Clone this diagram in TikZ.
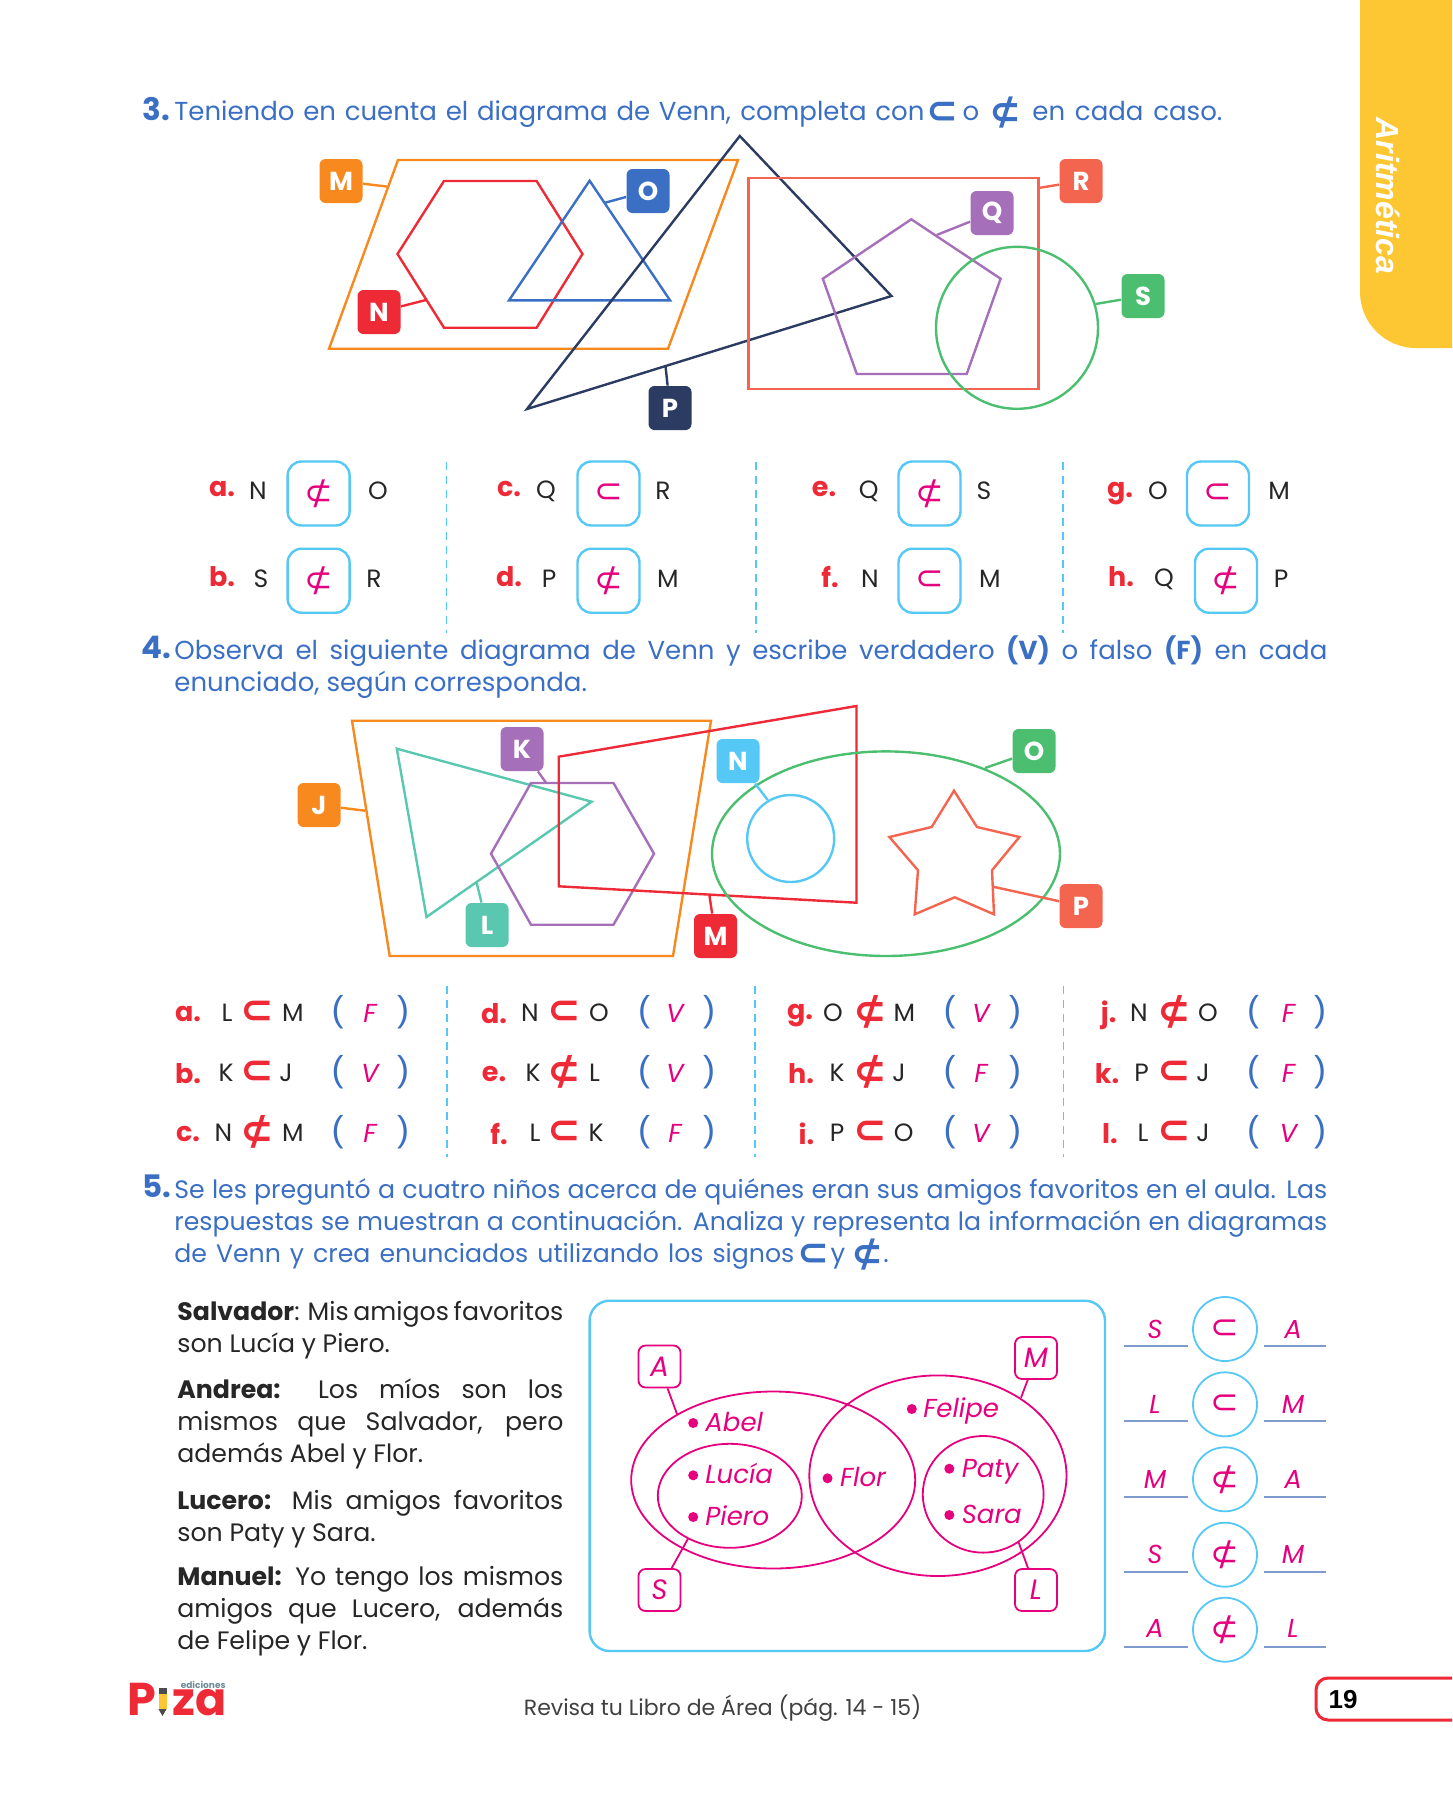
\documentclass[tikz,border=0pt]{standalone}
\usepackage{amsmath,amssymb}
\usepackage{fontspec}
\setmainfont{Poppins}
\newfontfamily\arialfont{Liberation Sans}
\newfontfamily\symfont{DejaVu Sans}
\usepackage{tikz}
\usetikzlibrary{positioning, shapes.geometric}
\definecolor{tabyellow}{HTML}{FCC732}
\definecolor{headblue}{HTML}{3A6FC4}
\definecolor{tagorange}{HTML}{F7891F}
\definecolor{tagred}{HTML}{EE2A37}
\definecolor{tagnavy}{HTML}{2B3B62}
\definecolor{tagpurple}{HTML}{A66FBA}
\definecolor{tagcoral}{HTML}{F3654E}
\definecolor{taggreen}{HTML}{4CBE70}
\definecolor{tagteal}{HTML}{5AC8B0}
\definecolor{tagcyan}{HTML}{55C8F5}
\definecolor{ansmag}{HTML}{E6007E}
\definecolor{linegray}{HTML}{7F9BCE}
\definecolor{logogray}{HTML}{6E8A96}
\newcommand{\insym}{{\symfont ⊂}}
\newcommand{\notsym}{{\symfont ⊄}}
\tikzset{
  body/.style={anchor=mid west, inner sep=0pt, yshift=-2pt, font=\fontsize{13}{15}\selectfont},
  tightbody/.style={anchor=mid west, inner sep=0pt, yshift=-2pt, font=\fontsize{12.6}{15}\selectfont},
  headtext/.style={body, text=headblue},
  headtight/.style={tightbody, text=headblue},
  blacktext/.style={tightbody, text=black!85},
  headsym/.style={inner sep=0pt, yshift=-1pt, text=headblue, font=\fontsize{19}{20}\selectfont\bfseries},
  secnum/.style={anchor=mid west, inner sep=0pt, yshift=-2pt, text=headblue, font=\fontsize{15.5}{16}\selectfont\bfseries},
  tagbox/.style={fill=#1, rounded corners=3pt, minimum width=21.5pt, minimum height=22pt, inner sep=0pt, text=white, font=\fontsize{13}{13}\selectfont\bfseries},
  setline/.style={draw=#1, line width=1.2pt, line join=miter},
  letter/.style={inner sep=0pt, text=black!85, font=\fontsize{12.5}{14}\selectfont},
  itemred/.style={inner sep=0pt, text=tagred, font=\fontsize{13.5}{14}\selectfont\bfseries},
  symbox/.style={draw=tagcyan, line width=1.2pt, rounded corners=7pt, minimum width=31pt, minimum height=32pt, inner sep=0pt, text=ansmag, font=\fontsize{17}{18}\selectfont},
  redsym/.style={inner sep=0pt, text=tagred, font=\fontsize{20}{21}\selectfont\bfseries},
  paren/.style={inner sep=0pt, text=headblue, font=\arialfont\fontsize{18}{18}\selectfont},
  answer/.style={inner sep=0pt, text=ansmag, font=\fontsize{13}{14}\selectfont\itshape},
  sepline/.style={draw=tagcyan, line width=0.8pt, dash pattern=on 4pt off 3pt},
  magline/.style={draw=ansmag, line width=0.9pt},
  magbox/.style={draw=ansmag, line width=0.9pt, rounded corners=3.5pt, minimum width=21pt, minimum height=21pt, inner sep=0pt, text=ansmag, font=\fontsize{14}{15}\selectfont\itshape},
  person/.style={anchor=mid west, inner sep=0pt, yshift=-1.5pt, text=ansmag, font=\fontsize{13}{15}\selectfont\itshape},
  blob/.style={circle, fill=ansmag, minimum size=5pt, inner sep=0pt},
  relcirc/.style={circle, draw=tagcyan, line width=0.9pt, minimum size=32pt, inner sep=0pt, text=ansmag, font=\fontsize{17}{18}\selectfont},
  ansline/.style={draw=linegray, line width=1pt},
}
\begin{document}
\begin{tikzpicture}[x=0.5pt, y=-0.5pt]
\useasboundingbox (0,0) rectangle (1452,1800);
% Side tab
\fill[tabyellow] (1452,0) -- (1360,0) [rounded corners=28pt] -- (1360,348) [sharp corners] -- (1452,348) -- cycle;
\node[rotate=-90, inner sep=0pt, text=white, font=\arialfont\fontsize{16}{16}\selectfont\bfseries\itshape] (tabtext) at (1388,196) {Aritmética};
%
% Exercise 3: heading
\node[secnum] (num3) at (142,111) {3.};
\node[headtext] (head3a) at (174,111) {\makebox[375pt][s]{Teniendo en cuenta el diagrama de Venn, completa con}};
\node[headsym] (head3b) at (942,111) {\insym};
\node[headtext, anchor=mid] (head3c) at (971,111) {o};
\node[headsym] (head3d) at (1005,111) {\notsym};
\node[headtext] (head3e) at (1032,111) {\makebox[95pt][s]{en cada caso.}};
%
% Exercise 3: sets
\draw[setline=tagorange] (398,160) -- (738,160) -- (668,348.7) -- (329,348.7) -- cycle; % Parallelogram M
\draw[setline=tagred] (444,181) -- (536.6,181) -- (582.5,254) -- (536.6,327.7) -- (444,327.7) -- (397.5,254) -- cycle; % Hexagon N
\draw[setline=headblue] (589.6,180.7) -- (670,300.3) -- (509,300.3) -- cycle; % Triangle O
\draw[setline=tagnavy] (739.8,136) -- (891.5,296) -- (527,409) -- cycle; % Triangle P
\draw[setline=tagcoral] (748.5,178) rectangle (1038.6,389); % Rectangle R
\draw[setline=tagpurple] (911.3,219.3) -- (1000.6,278.7) -- (966.7,374) -- (856.8,374) -- (822.8,278.7) -- cycle; % Pentagon Q
\draw[setline=taggreen] (1017,327.8) circle [radius=81]; % Circle S
%
% Exercise 3: tags
\node[tagbox=tagorange] (tagM) at (341,181) {M};
\node[tagbox=headblue] (tagO) at (648,191) {O};
\node[tagbox=tagred] (tagN) at (379,312) {N};
\node[tagbox=tagcoral] (tagR) at (1081,181) {R};
\node[tagbox=tagpurple] (tagQ) at (992,213) {Q};
\node[tagbox=taggreen] (tagS) at (1143,296) {S};
\node[tagbox=tagnavy] (tagP) at (670,408) {P};
\coordinate (endM) at (388,186.7);
\coordinate (endO) at (604,203);
\coordinate (endN) at (426,300);
\coordinate (endR) at (1038.6,188);
\coordinate (endQ) at (936.6,235);
\coordinate (endS) at (1095.5,304);
\coordinate (endP) at (665.5,366);
\draw[setline=tagorange] (tagM) -- (endM);
\draw[setline=headblue] (tagO) -- (endO);
\draw[setline=tagred] (tagN) -- (endN);
\draw[setline=tagcoral] (tagR) -- (endR);
\draw[setline=tagpurple] (tagQ) -- (endQ);
\draw[setline=taggreen] (tagS) -- (endS);
\draw[setline=tagnavy] (tagP) -- (endP);
%
% Exercise 3: answers, top row
\node[itemred] (a3) at (222,489) {a.};
\node[letter] (a3l) at (258,491) {N};
\node[symbox] (a3s) at (318.6,493.5) {\notsym};
\node[letter] (a3r) at (378,491) {O};
\node[itemred] (c3) at (509,489) {c.};
\node[letter] (c3l) at (546,491) {Q};
\node[symbox] (c3s) at (608.5,493.5) {\insym};
\node[letter] (c3r) at (663,491) {R};
\node[itemred] (e3) at (824,489) {e.};
\node[letter] (e3l) at (868.6,491) {Q};
\node[symbox] (e3s) at (929.5,493.5) {\notsym};
\node[letter] (e3r) at (984,491) {S};
\node[itemred] (g3) at (1120,494) {g.};
\node[letter] (g3l) at (1158,491) {O};
\node[symbox] (g3s) at (1218,493.5) {\insym};
\node[letter] (g3r) at (1279,491) {M};
%
% Exercise 3: answers, bottom row
\node[itemred] (b3) at (222,577) {b.};
\node[letter] (b3l) at (261,579) {S};
\node[symbox] (b3s) at (318.6,580.7) {\notsym};
\node[letter] (b3r) at (374,579) {R};
\node[itemred] (d3) at (509,577) {d.};
\node[letter] (d3l) at (549,579) {P};
\node[symbox] (d3s) at (608.5,580.7) {\notsym};
\node[letter] (d3r) at (668,579) {M};
\node[itemred] (f3) at (830,577) {f.};
\node[letter] (f3l) at (870,579) {N};
\node[symbox] (f3s) at (929.5,580.7) {\insym};
\node[letter] (f3r) at (990,579) {M};
\node[itemred] (h3) at (1121,577) {h.};
\node[letter] (h3l) at (1164,579) {Q};
\node[symbox] (h3s) at (1226,580.7) {\notsym};
\node[letter] (h3r) at (1281,579) {P};
\draw[sepline] (446.5,462) -- (446.5,633);
\draw[sepline] (756,462) -- (756,633);
\draw[sepline] (1063,462) -- (1063,633);
%
% Exercise 4: heading
\node[secnum] (num4) at (141,649) {4.};
\node[headtext] (head4a) at (174,650) {\makebox[576.5pt][s]{Observa el siguiente diagrama de Venn y escribe verdadero \textbf{(V)} o falso \textbf{(F)} en cada}};
\node[headtext] (head4b) at (174,682) {enunciado, según corresponda.};
%
% Exercise 4: sets
\draw[setline=tagorange] (352,720.7) -- (711,720.7) -- (673,956) -- (389.7,956) -- cycle; % Trapezoid J
\draw[setline=tagteal] (396.8,748.7) -- (591.6,801.7) -- (426.5,917) -- cycle; % Triangle L
\draw[setline=tagpurple] (531,783) -- (613.5,783) -- (654,853.7) -- (613.5,924.7) -- (531,924.7) -- (491,853.7) -- cycle; % Hexagon K
\draw[setline=tagred] (558.7,756.7) -- (856.5,706) -- (856.5,902.7) -- (558.7,886.3) -- cycle; % Quadrilateral M
\draw[setline=taggreen] (886,853.7) ellipse [x radius=174, y radius=102.3]; % Ellipse O
\draw[setline=tagcyan] (790.7,838.5) circle [radius=43.5]; % Circle N
\draw[setline=tagcoral] (954,790.7) -- (977,827) -- (1019.4,837) -- (992,870.3) -- (994,914.3) -- (954.7,897.3) -- (914.7,914.3) -- (918,870.3) -- (889.4,837) -- (931.7,827) -- cycle; % Star P
%
% Exercise 4: tags
\node[tagbox=tagorange] (tagJ) at (319,805) {J};
\node[tagbox=tagpurple] (tagK) at (522,749) {K};
\node[tagbox=tagcyan] (tagNb) at (738,761) {N};
\node[tagbox=taggreen] (tagOb) at (1034,751) {O};
\node[tagbox=tagcoral] (tagPb) at (1081,906) {P};
\node[tagbox=tagteal] (tagL) at (487,925) {L};
\node[tagbox=tagred] (tagMb) at (715.5,936) {M};
\coordinate (endJ) at (365,810.7);
\coordinate (endK) at (546,782.7);
\coordinate (endNb) at (767.7,800);
\coordinate (endOb) at (985,768);
\coordinate (endPb) at (993,886.7);
\coordinate (endL) at (476.4,881.7);
\coordinate (endMb) at (709.5,896);
\draw[setline=tagorange] (tagJ) -- (endJ);
\draw[setline=tagpurple] (tagK) -- (endK);
\draw[setline=tagcyan] (tagNb) -- (endNb);
\draw[setline=taggreen] (tagOb) -- (endOb);
\draw[setline=tagcoral] (tagPb) -- (endPb);
\draw[setline=tagteal] (tagL) -- (endL);
\draw[setline=tagred] (tagMb) -- (endMb);
%
% Exercise 4: answers, first column
\node[itemred] (a4) at (188,1014) {a.};
\node[letter] (a4l) at (227,1013) {L};
\node[redsym] (a4s) at (257,1012) {\insym};
\node[letter] (a4r) at (293,1013) {M};
\node[paren] (a4o) at (337.5,1012) {(};
\node[answer] (a4v) at (370,1013) {F};
\node[paren] (a4c) at (403,1012) {)};
\node[itemred] (b4) at (188,1074) {b.};
\node[letter] (b4l) at (226,1073) {K};
\node[redsym] (b4s) at (257,1072) {\insym};
\node[letter] (b4r) at (286,1073) {J};
\node[paren] (b4o) at (337.5,1072) {(};
\node[answer] (b4v) at (370,1073) {V};
\node[paren] (b4c) at (403,1072) {)};
\node[itemred] (c4) at (188,1134) {c.};
\node[letter] (c4l) at (223.5,1133) {N};
\node[redsym] (c4s) at (257,1132) {\notsym};
\node[letter] (c4r) at (293,1133) {M};
\node[paren] (c4o) at (337.5,1132) {(};
\node[answer] (c4v) at (370,1133) {F};
\node[paren] (c4c) at (403,1132) {)};
%
% Exercise 4: answers, second column
\node[itemred] (d4) at (494,1014) {d.};
\node[letter] (d4l) at (530,1013) {N};
\node[redsym] (d4s) at (564,1012) {\insym};
\node[letter] (d4r) at (599,1013) {O};
\node[paren] (d4o) at (644,1012) {(};
\node[answer] (d4v) at (675,1013) {V};
\node[paren] (d4c) at (709,1012) {)};
\node[itemred] (e4) at (494,1074) {e.};
\node[letter] (e4l) at (533,1073) {K};
\node[redsym] (e4s) at (564,1072) {\notsym};
\node[letter] (e4r) at (594.6,1073) {L};
\node[paren] (e4o) at (644,1072) {(};
\node[answer] (e4v) at (675,1073) {V};
\node[paren] (e4c) at (709,1072) {)};
\node[itemred] (f4) at (499,1134) {f.};
\node[letter] (f4l) at (535,1133) {L};
\node[redsym] (f4s) at (564,1132) {\insym};
\node[letter] (f4r) at (596,1133) {K};
\node[paren] (f4o) at (644,1132) {(};
\node[answer] (f4v) at (675,1133) {F};
\node[paren] (f4c) at (709,1132) {)};
%
% Exercise 4: answers, third column
\node[itemred] (g4) at (800,1016) {g.};
\node[letter] (g4l) at (833,1013) {O};
\node[redsym] (g4s) at (870,1012) {\notsym};
\node[letter] (g4r) at (904.5,1013) {M};
\node[paren] (g4o) at (949.6,1012) {(};
\node[answer] (g4v) at (981,1013) {V};
\node[paren] (g4c) at (1015,1012) {)};
\node[itemred] (h4) at (801,1074) {h.};
\node[letter] (h4l) at (837,1073) {K};
\node[redsym] (h4s) at (870,1072) {\notsym};
\node[letter] (h4r) at (899,1073) {J};
\node[paren] (h4o) at (949.6,1072) {(};
\node[answer] (h4v) at (981,1073) {F};
\node[paren] (h4c) at (1015,1072) {)};
\node[itemred] (i4) at (806.5,1134) {i.};
\node[letter] (i4l) at (837,1133) {P};
\node[redsym] (i4s) at (870,1132) {\insym};
\node[letter] (i4r) at (903.7,1133) {O};
\node[paren] (i4o) at (949.6,1132) {(};
\node[answer] (i4v) at (981,1133) {V};
\node[paren] (i4c) at (1015,1132) {)};
%
% Exercise 4: answers, fourth column
\node[itemred] (j4) at (1108.7,1015) {j.};
\node[letter] (j4l) at (1139,1013) {N};
\node[redsym] (j4s) at (1174,1012) {\notsym};
\node[letter] (j4r) at (1208,1013) {O};
\node[paren] (j4o) at (1253,1012) {(};
\node[answer] (j4v) at (1288.5,1013) {F};
\node[paren] (j4c) at (1320,1012) {)};
\node[itemred] (k4) at (1107,1074) {k.};
\node[letter] (k4l) at (1141.6,1073) {P};
\node[redsym] (k4s) at (1174,1072) {\insym};
\node[letter] (k4r) at (1203,1073) {J};
\node[paren] (k4o) at (1253,1072) {(};
\node[answer] (k4v) at (1288.5,1073) {F};
\node[paren] (k4c) at (1320,1072) {)};
\node[itemred] (l4) at (1110,1134) {l.};
\node[letter] (l4l) at (1143,1133) {L};
\node[redsym] (l4s) at (1174,1132) {\insym};
\node[letter] (l4r) at (1203,1133) {J};
\node[paren] (l4o) at (1253,1132) {(};
\node[answer] (l4v) at (1288.5,1133) {V};
\node[paren] (l4c) at (1320,1132) {)};
\draw[sepline, line width=0.6pt] (447,986) -- (447,1157);
\draw[sepline, line width=0.6pt] (755,986) -- (755,1157);
\draw[sepline, line width=0.6pt] (1063.6,986) -- (1063.6,1157);
%
% Exercise 5: heading
\node[secnum] (num5) at (142,1188) {5.};
\node[headtight] (head5a) at (174,1189) {\makebox[576.5pt][s]{Se les preguntó a cuatro niños acerca de quiénes eran sus amigos favoritos en el aula. Las}};
\node[headtight] (head5b) at (174,1221) {\makebox[576.5pt][s]{respuestas se muestran a continuación. Analiza y representa la información en diagramas}};
\node[headtight] (head5c) at (174,1253) {\makebox[310pt][s]{de Venn y crea enunciados utilizando los signos}};
\node[headsym] (head5d) at (813,1253) {\insym};
\node[headtext, anchor=mid] (head5e) at (838,1253) {y};
\node[headsym] (head5f) at (867,1253) {\notsym};
\node[headtext, anchor=mid] (head5g) at (886,1253) {.};
%
% Exercise 5: statements
\node[blacktext] (sal1) at (177,1311) {\makebox[193pt][s]{\textbf{Salvador}: Mis amigos favoritos}};
\node[blacktext] (sal2) at (177,1343) {son Lucía y Piero.};
\node[blacktext] (and1) at (177,1389) {\makebox[193pt][s]{\textbf{Andrea:} Los míos son los}};
\node[blacktext] (and2) at (177,1421) {\makebox[193pt][s]{mismos que Salvador, pero}};
\node[blacktext] (and3) at (177,1453) {además Abel y Flor.};
\node[blacktext] (luc1) at (177,1500) {\makebox[193pt][s]{\textbf{Lucero:} Mis amigos favoritos}};
\node[blacktext] (luc2) at (177,1532) {son Paty y Sara.};
\node[blacktext] (man1) at (177,1576) {\makebox[193pt][s]{\textbf{Manuel:} Yo tengo los mismos}};
\node[blacktext] (man2) at (177,1608) {\makebox[193pt][s]{amigos que Lucero, además}};
\node[blacktext] (man3) at (177,1640) {de Felipe y Flor.};
%
% Exercise 5: Venn diagram
\draw[draw=tagcyan, line width=1.2pt, rounded corners=10pt] (589.6,1300.7) rectangle (1105,1651);
\draw[magline] (773.2,1480) ellipse [x radius=142, y radius=88.5]; % Set A
\draw[magline] (937.9,1475.7) ellipse [x radius=128.6, y radius=100.3]; % Set M
\draw[magline] (729.8,1495.8) ellipse [x radius=72, y radius=52]; % Set S
\draw[magline] (983.2,1494.3) ellipse [x radius=60.4, y radius=58.3]; % Set L
\node[magbox] (boxA) at (659.5,1366.5) {A};
\node[magbox] (boxM) at (1036,1358) {M};
\node[magbox] (boxS) at (659.5,1590) {S};
\node[magbox] (boxL) at (1036,1590) {L};
\coordinate (endA) at (677,1414);
\coordinate (endMm) at (1021,1397.7);
\coordinate (endSm) at (688,1538.7);
\coordinate (endLm) at (1018.6,1542.3);
\draw[magline] (boxA) -- (endA);
\draw[magline] (boxM) -- (endMm);
\draw[magline] (boxS) -- (endSm);
\draw[magline] (boxL) -- (endLm);
\node[blob] (dotAbel) at (693.2,1423) {};
\node[person] (abel) at (705,1423) {Abel};
\node[blob] (dotLucia) at (693.2,1475.3) {};
\node[person] (lucia) at (705,1475.3) {Lucía};
\node[blob] (dotPiero) at (693.2,1517) {};
\node[person] (piero) at (705,1517) {Piero};
\node[blob] (dotFlor) at (827.5,1478.3) {};
\node[person] (flor) at (839.6,1478.3) {Flor};
\node[blob] (dotFelipe) at (911.8,1409) {};
\node[person] (felipe) at (922.9,1409) {Felipe};
\node[blob] (dotPaty) at (949.3,1468.7) {};
\node[person] (paty) at (961.4,1468.7) {Paty};
\node[blob] (dotSara) at (949.3,1515) {};
\node[person] (sara) at (961.4,1515) {Sara};
%
% Exercise 5: relations
\node[relcirc] (rel1) at (1225,1329) {\insym};
\node[relcirc] (rel2) at (1225,1404.3) {\insym};
\node[relcirc] (rel3) at (1225,1479.3) {\notsym};
\node[relcirc] (rel4) at (1225,1554.7) {\notsym};
\node[relcirc] (rel5) at (1225,1629.7) {\notsym};
\node[answer] (rel1l) at (1155,1329) {S};
\node[answer] (rel1r) at (1293,1329) {A};
\node[answer] (rel2l) at (1155,1404) {L};
\node[answer] (rel2r) at (1293,1404) {M};
\node[answer] (rel3l) at (1155,1479) {M};
\node[answer] (rel3r) at (1293,1479) {A};
\node[answer] (rel4l) at (1155,1554) {S};
\node[answer] (rel4r) at (1293,1554) {M};
\node[answer] (rel5l) at (1155,1628) {A};
\node[answer] (rel5r) at (1293,1628) {L};
\draw[ansline] (1124,1346) -- (1188,1346);
\draw[ansline] (1263.7,1346) -- (1326,1346);
\draw[ansline] (1124,1421.3) -- (1188,1421.3);
\draw[ansline] (1263.7,1421.3) -- (1326,1421.3);
\draw[ansline] (1124,1496.7) -- (1188,1496.7);
\draw[ansline] (1263.7,1496.7) -- (1326,1496.7);
\draw[ansline] (1124,1572) -- (1188,1572);
\draw[ansline] (1263.7,1572) -- (1326,1572);
\draw[ansline] (1124,1646.7) -- (1188,1646.7);
\draw[ansline] (1263.7,1646.7) -- (1326,1646.7);
%
% Footer
\node[inner sep=0pt, text=black!75, font=\fontsize{11}{13}\selectfont] (footer) at (722.6,1708) {Revisa tu Libro de Área (pág. 14 - 15)};
\draw[draw=tagred, line width=1.5pt, rounded corners=6pt] (1452,1678) -- (1316,1678) -- (1316,1720) -- (1452,1720);
\node[inner sep=0pt, font=\arialfont\fontsize{13}{13}\selectfont\bfseries] (pagenum) at (1343,1700) {19};
% Logo
\node[anchor=base west, inner sep=0pt, text=tagred, font=\fontsize{23}{23}\selectfont\bfseries] (logoP) at (127,1715) {P};
\node[anchor=base west, inner sep=0pt, text=tagred, font=\fontsize{23}{23}\selectfont\bfseries] (logoZa) at (172,1715) {za};
\node[anchor=east, inner sep=0pt, text=logogray, font=\fontsize{4.5}{5}\selectfont\bfseries] (logoTop) at (226,1685) {ediciones};
\fill[tabyellow] (158.5,1694) rectangle (166.5,1709);
\fill[black!70] (158.5,1688) rectangle (166.5,1694);
\fill[black!70] (158.5,1709) -- (166.5,1709) -- (162.5,1716) -- cycle;
%
\end{tikzpicture}
\end{document}
